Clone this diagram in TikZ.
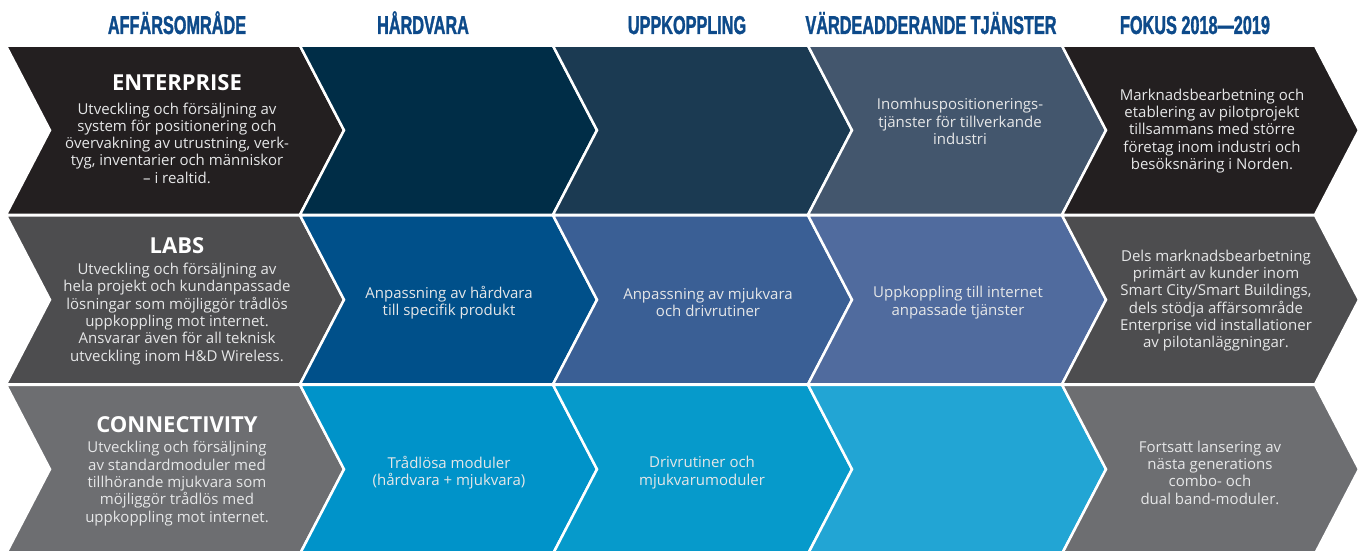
\documentclass[tikz,border=0pt]{standalone}
\usepackage{fontspec}
\setmainfont{Open Sans}
\newfontfamily\headfont[FakeStretch=0.63,FakeBold=1.2]{Liberation Sans}
\definecolor{headblue}{HTML}{0D4A8A}
\definecolor{bodytext}{HTML}{E6E7E8}
\definecolor{ra}{HTML}{231F20}\definecolor{rb}{HTML}{002D47}\definecolor{rc}{HTML}{1B3A52}\definecolor{rd}{HTML}{43566D}
\definecolor{sa}{HTML}{4D4D4F}\definecolor{sb}{HTML}{00508A}\definecolor{sc}{HTML}{3A5F95}\definecolor{sd}{HTML}{506B9E}
\definecolor{ta}{HTML}{6D6E71}\definecolor{tb}{HTML}{0093C9}\definecolor{tc}{HTML}{069ACB}\definecolor{td}{HTML}{22A5D4}
\tikzset{
  chev/.style={draw=white, line width=2.5pt, line join=miter},
  body/.style={text=bodytext, align=center, font=\fontsize{15}{17.3}\selectfont, inner sep=0pt},
  headtxt/.style={text=white, font=\fontsize{22}{26}\selectfont\bfseries, inner sep=0pt, anchor=base},
  colhead/.style={text=headblue, font=\headfont\bfseries\fontsize{25.8}{28}\selectfont, inner sep=0pt, anchor=base},
}
\begin{document}
\begin{tikzpicture}[x=1pt,y=-1pt]
\useasboundingbox (0,0) rectangle (1366,551);
\fill[white] (0,0) rectangle (1366,551);
\draw[black!15, line width=0.8pt] (6,46) -- (1315,46);
% chevrons: row tops and colors
\foreach \T/\ca/\cb/\cc/\cd in {45.75/ra/rb/rc/rd, 215.25/sa/sb/sc/sd, 384.75/ta/tb/tc/td}{
  \foreach \L/\R/\col in {6/300/\ca, 300/553/\cb, 553/808/\cc, 808/1062/\cd, 1062/1315/\ca}{
    \fill[\col, chev] (\L,\T) -- (\R,\T) -- (\R+44,\T+84.5) -- (\R,\T+169) -- (\L,\T+169) -- (\L+44,\T+84.5) -- cycle;
  }
}
% column headings
\node[colhead] (h1) at (177,34) {AFFÄRSOMRÅDE};
\node[colhead] (h2) at (423,34) {HÅRDVARA};
\node[colhead] (h3) at (687,34) {UPPKOPPLING};
\node[colhead] (h4) at (931,34) {VÄRDEADDERANDE TJÄNSTER};
\node[colhead] (h5) at (1195,34) {FOKUS 2018—2019};
% row 1
\node[headtxt] (e1) at (177,90) {ENTERPRISE};
\node[body] (e2) at (177,143) {Utveckling och försäljning av\\system för positionering och\\övervakning av utrustning, verk-\\tyg, inventarier och människor\\– i realtid.};
\node[body] (e4) at (960,121.5) {Inomhuspositionerings-\\tjänster för tillverkande\\industri};
\node[body] (e5) at (1212,131) {Marknadsbearbetning och\\etablering av pilotprojekt\\tillsammans med större\\företag inom industri och\\besöksnäring i Norden.};
% row 2
\node[headtxt] (l1) at (177,253) {LABS};
\node[body] (l2) at (177,314) {Utveckling och försäljning av\\hela projekt och kundanpassade\\lösningar som möjliggör trådlös\\uppkoppling mot internet.\\Ansvarar även för all teknisk\\utveckling inom H\&D Wireless.};
\node[body] (l3) at (449,302.5) {Anpassning av hårdvara\\till specifik produkt};
\node[body] (l4) at (708,302.5) {Anpassning av mjukvara\\och drivrutiner};
\node[body] (l5) at (958,302.5) {Uppkoppling till internet\\anpassade tjänster};
\node[body] (l6) at (1216,300.5) {Dels marknadsbearbetning\\primärt av kunder inom\\Smart City/Smart Buildings,\\dels stödja affärsområde\\Enterprise vid installationer\\av pilotanläggningar.};
% row 3
\node[headtxt] (c1) at (177,432) {CONNECTIVITY};
\node[body] (c2) at (177,483.5) {Utveckling och försäljning\\av standardmoduler med\\tillhörande mjukvara som\\möjliggör trådlös med\\uppkoppling mot internet.};
\node[body] (c3) at (449,472.5) {Trådlösa moduler\\(hårdvara + mjukvara)};
\node[body] (c4) at (702,472.5) {Drivrutiner och\\mjukvarumoduler};
\node[body] (c5) at (1210,472.5) {Fortsatt lansering av\\nästa generations\\combo- och\\dual band-moduler.};
\end{tikzpicture}
\end{document}
